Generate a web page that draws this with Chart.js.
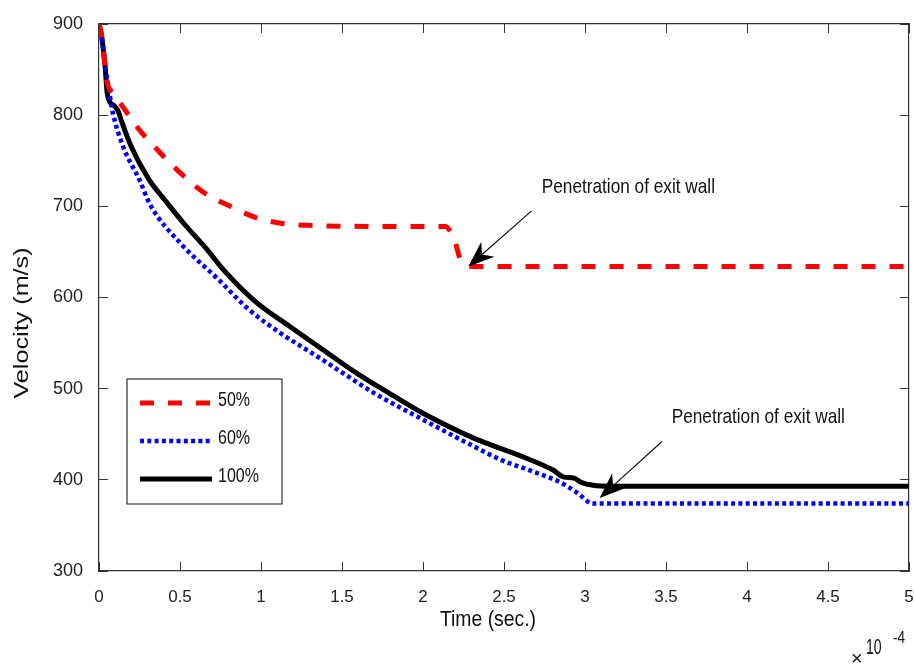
<!DOCTYPE html>
<html>
<head>
<meta charset="utf-8">
<script src="https://cdn.jsdelivr.net/npm/chart.js@4.4.0/dist/chart.umd.min.js"></script>
<style>
  html, body { margin: 0; padding: 0; background: #fff; }
  #wrap { width: 914px; height: 666px; }
</style>
</head>
<body>
<div id="wrap"><canvas id="velocityChart" width="914" height="666"></canvas></div>
<script>
// time in units of 1e-4 s, velocity in m/s
const time50 = [0, 0.015, 0.037, 0.05, 0.065, 0.086, 0.148, 0.235, 0.36, 0.5, 0.64, 0.81, 0.98, 1.14, 1.32, 1.65, 2.0, 2.14, 2.17, 2.2, 2.23, 2.27, 2.3, 3.0, 4.0, 5.0];
const vel50 = [900, 888, 855, 836, 829, 824, 809, 787, 762, 737, 716, 700, 687, 681, 679, 678, 678, 678, 672, 660, 642, 635, 634, 634, 634, 634];

const time60 = [0, 0.015, 0.037, 0.055, 0.07, 0.085, 0.15, 0.25, 0.315, 0.5, 0.73, 0.93, 1.12, 1.35, 1.55, 1.69, 2.0, 2.31, 2.48, 2.68, 2.85, 2.95, 3.05, 3.2, 4.0, 5.0];
const vel60 = [900, 888, 855, 835, 818, 803, 765, 729, 702, 660, 621, 586, 561, 535, 512, 496, 466, 437, 422, 409, 397, 386, 374, 374, 374, 374];

const time100 = [0, 0.015, 0.037, 0.05, 0.065, 0.09, 0.117, 0.14, 0.2, 0.31, 0.42, 0.52, 0.67, 0.77, 0.975, 1.18, 1.38, 1.59, 1.8, 2.0, 2.31, 2.62, 2.8, 2.87, 2.93, 2.98, 3.05, 3.15, 4.0, 5.0];
const vel100 = [900, 888, 855, 825, 815, 811, 805, 793, 765, 729, 704, 682, 652, 630, 594, 568, 543, 517, 494, 473, 446, 425, 411, 403, 402, 397, 394, 393, 393, 393];

const xTicks = [0, 0.5, 1, 1.5, 2, 2.5, 3, 3.5, 4, 4.5, 5];
const yTicks = [300, 400, 500, 600, 700, 800, 900];

// annotations: text baseline start and arrow tail -> tip, in data units
const noteText = ['Penetration of exit wall', 'Penetration of exit wall'];
const noteAt = [[2.733, 714.5], [3.535, 462.5]];
const arrowFrom = [[2.67, 695], [3.475, 442]];
const arrowTo = [[2.28, 634], [3.09, 380]];

function pts(xs, ys) {
    return xs.map((x, i) => ({x: x, y: ys[i]}));
}

const FONT = "'Liberation Sans', Arial, Helvetica, sans-serif";
const AXIS_COLOR = '#333';

function tickAxis(position, show, size) {
    const isX = position === 'top' || position === 'bottom';
    return {
        type: 'linear',
        position: position,
        min: isX ? 0 : 300,
        max: isX ? 5 : 900,
        afterBuildTicks: (scale) => {
            scale.ticks = (isX ? xTicks : yTicks).map(v => ({value: v}));
        },
        afterFit: (scale) => {
            if (isX) scale.height = size; else scale.width = size;
            // no extra room for label overhang, the layout padding handles it
            scale.paddingLeft = scale.paddingRight = scale.paddingTop = scale.paddingBottom = 0;
        },
        border: {display: true, color: AXIS_COLOR, width: 1.2},
        grid: {display: true, drawOnChartArea: false, drawTicks: true, tickLength: -9, color: AXIS_COLOR, tickColor: AXIS_COLOR, lineWidth: 1},
        ticks: {
            display: show,
            color: '#222',
            font: {family: FONT, size: isX ? 17 : 18},
            padding: 25,
            maxRotation: 0,
            autoSkip: false,
            callback: (v) => String(v)
        }
    };
}

// text squeezed sideways, the original figure's font is narrow
function narrowText(ctx, text, x, y, size, sx, align) {
    ctx.save();
    ctx.translate(x, y);
    ctx.scale(sx, 1);
    ctx.font = size + 'px ' + FONT;
    ctx.textAlign = align || 'left';
    ctx.fillText(text, 0, 0);
    ctx.restore();
}

// legend box + annotations + axis titles
const decorPlugin = {
    id: 'decor',
    afterDraw(chart) {
        const ctx = chart.ctx;
        const xs = chart.scales.x, ys = chart.scales.y;
        ctx.save();

        // legend
        const lx = 127, ly = 379, lw = 155, lh = 125;
        ctx.fillStyle = '#fff';
        ctx.fillRect(lx, ly, lw, lh);
        ctx.strokeStyle = '#333';
        ctx.lineWidth = 1.2;
        ctx.strokeRect(lx, ly, lw, lh);
        chart.data.datasets.forEach((ds, i) => {
            const y = ly + 24 + i * 38;
            ctx.beginPath();
            ctx.setLineDash(ds.borderDash || []);
            ctx.strokeStyle = ds.borderColor;
            ctx.lineWidth = ds.borderWidth;
            ctx.moveTo(lx + 13, y);
            ctx.lineTo(lx + 85, y);
            ctx.stroke();
            ctx.setLineDash([]);
            ctx.fillStyle = '#111';
            ctx.textBaseline = 'middle';
            narrowText(ctx, ds.label, lx + 91, y - 3, 20, 0.8);
        });

        // annotations with arrows
        noteText.forEach((t, i) => {
            ctx.fillStyle = '#111';
            ctx.textBaseline = 'alphabetic';
            narrowText(ctx, t, xs.getPixelForValue(noteAt[i][0]), ys.getPixelForValue(noteAt[i][1]), 21, 0.82);

            const x1 = xs.getPixelForValue(arrowFrom[i][0]), y1 = ys.getPixelForValue(arrowFrom[i][1]);
            const x2 = xs.getPixelForValue(arrowTo[i][0]), y2 = ys.getPixelForValue(arrowTo[i][1]);
            const ang = Math.atan2(y2 - y1, x2 - x1);
            const hl = 26, hw = 10;
            ctx.strokeStyle = '#111';
            ctx.lineWidth = 1.2;
            ctx.beginPath();
            ctx.moveTo(x1, y1);
            ctx.lineTo(x2 - Math.cos(ang) * hl * 0.7, y2 - Math.sin(ang) * hl * 0.7);
            ctx.stroke();
            const bx = x2 - Math.cos(ang) * hl, by = y2 - Math.sin(ang) * hl;
            const nx = -Math.sin(ang), ny = Math.cos(ang);
            const mx = x2 - Math.cos(ang) * hl * 0.7, my = y2 - Math.sin(ang) * hl * 0.7;
            ctx.fillStyle = '#000';
            ctx.beginPath();
            ctx.moveTo(x2, y2);
            ctx.lineTo(bx + nx * hw, by + ny * hw);
            ctx.lineTo(mx, my);
            ctx.lineTo(bx - nx * hw, by - ny * hw);
            ctx.closePath();
            ctx.fill();
        });

        // axis titles
        ctx.fillStyle = '#111';
        ctx.textBaseline = 'middle';
        narrowText(ctx, 'Time (sec.)', 488, 620, 22, 0.88, 'center');
        ctx.save();
        ctx.translate(22, 323);
        ctx.rotate(-Math.PI / 2);
        ctx.scale(1.2, 1);
        ctx.font = '21px ' + FONT;
        ctx.textAlign = 'center';
        ctx.fillText('Velocity (m/s)', 0, 0);
        ctx.restore();

        // exponent
        narrowText(ctx, '\u00d7', 851, 659, 20, 1);
        narrowText(ctx, '10', 866, 648, 22, 0.64);
        narrowText(ctx, '-4', 893, 639, 16, 0.85);
        ctx.restore();
    }
};

const ctxV = document.getElementById('velocityChart').getContext('2d');
const velocityChart = new Chart(ctxV, {
    type: 'line',
    data: {
        datasets: [{
            label: '50%',
            data: pts(time50, vel50),
            borderColor: '#ff0000',
            borderWidth: 5,
            borderDash: [14, 14],
            pointRadius: 0,
            cubicInterpolationMode: 'monotone',
            fill: false
        }, {
            label: '60%',
            data: pts(time60, vel60),
            borderColor: '#0000ff',
            borderWidth: 4.5,
            borderDash: [4, 3.3],
            pointRadius: 0,
            cubicInterpolationMode: 'monotone',
            fill: false
        }, {
            label: '100%',
            data: pts(time100, vel100),
            borderColor: '#000000',
            borderWidth: 5,
            pointRadius: 0,
            cubicInterpolationMode: 'monotone',
            fill: false
        }]
    },
    options: {
        responsive: false,
        animation: false,
        parsing: false,
        layout: {padding: {left: 0, top: 24, right: 5, bottom: 0}},
        plugins: {legend: {display: false}, tooltip: {enabled: false}},
        scales: {
            x: tickAxis('bottom', true, 95),
            x2: tickAxis('top', false, 0),
            y: tickAxis('left', true, 99),
            y2: tickAxis('right', false, 0)
        }
    },
    plugins: [decorPlugin]
});
</script>
</body>
</html>
